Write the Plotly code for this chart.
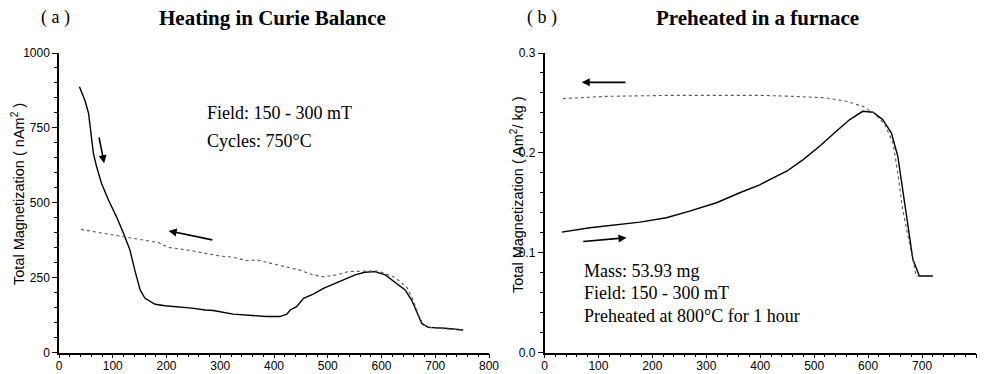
import plotly.graph_objects as go

# ---- data (a) Heating in Curie Balance ----
heat_a_T = [38, 48, 55, 60, 64, 70, 79, 92, 107, 120, 132, 141, 151, 160, 179, 197, 222, 247, 272, 287,
            324, 361, 386, 411, 424, 430, 442, 455, 473, 492, 517, 532, 551, 569, 588, 607, 625, 644,
            656, 666, 675, 687, 718, 752]
heat_a_M = [887, 843, 799, 720, 665, 620, 565, 509, 453, 398, 342, 275, 209, 181, 161, 156, 153, 148, 142, 140,
            128, 123, 120, 120, 128, 142, 153, 181, 195, 214, 233, 244, 259, 268, 270, 259, 236, 209,
            175, 131, 97, 84, 81, 75]
cool_a_T = [41, 86, 123, 154, 185, 203, 247, 272, 300, 324, 349, 368, 393, 417, 448, 473, 492, 517, 538,
            569, 594, 625, 647, 659, 669, 678, 693, 752]
cool_a_M = [411, 398, 387, 376, 367, 351, 340, 331, 322, 318, 307, 309, 298, 290, 275, 259, 253, 259, 270,
            272, 272, 251, 218, 175, 125, 92, 83, 75]

# ---- data (b) Preheated in a furnace ----
heat_b_T = [32, 84, 177, 226, 269, 319, 362, 399, 424, 449, 479, 510, 541, 566, 590, 609, 627, 643,
            655, 664, 674, 683, 695, 720]
heat_b_M = [0.1206, 0.125, 0.1306, 0.135, 0.1416, 0.150, 0.160, 0.168, 0.175, 0.1816, 0.193, 0.2066,
            0.2216, 0.2333, 0.2416, 0.2406, 0.2333, 0.220, 0.1966, 0.1633, 0.1266, 0.0933, 0.0766, 0.0766]
cool_b_T = [34, 115, 239, 399, 461, 523, 560, 590, 612, 631, 646, 655, 664, 677, 689, 705]
cool_b_M = [0.2543, 0.2566, 0.2576, 0.2576, 0.2566, 0.255, 0.2516, 0.2466, 0.2393, 0.2283, 0.21, 0.18,
            0.1433, 0.1066, 0.0766, 0.0766]

x_ticks = [0, 100, 200, 300, 400, 500, 600, 700, 800]
ya_ticks = [0, 250, 500, 750, 1000]
yb_ticks = [0.0, 0.1, 0.2, 0.3]

SERIF = "Liberation Serif"
SANS = "Liberation Sans"
W, H = 985, 374

fig = go.Figure()
solid = dict(color="black", width=1.4)
dotted = dict(color="#555555", width=1.1, dash="dot")
fig.add_trace(go.Scatter(x=heat_a_T, y=heat_a_M, mode="lines", line=solid, xaxis="x", yaxis="y"))
fig.add_trace(go.Scatter(x=cool_a_T, y=cool_a_M, mode="lines", line=dotted, xaxis="x", yaxis="y"))
fig.add_trace(go.Scatter(x=heat_b_T, y=heat_b_M, mode="lines", line=solid, xaxis="x2", yaxis="y2"))
fig.add_trace(go.Scatter(x=cool_b_T, y=cool_b_M, mode="lines", line=dotted, xaxis="x2", yaxis="y2"))

def px_x(p):
    return p / W

def px_y(p):
    return 1 - p / H

axis_common = dict(showline=True, linecolor="black", linewidth=1.5, ticks="outside", ticklen=5,
                   tickwidth=1, tickcolor="black", showgrid=False, zeroline=False,
                   tickfont=dict(family=SANS, size=12, color="black"), automargin=False)
xaxis_extra = dict(ticklen=4, ticklabelstandoff=-3)

ydom = [px_y(352.5), px_y(53)]
fig.update_layout(
    width=W, height=H, margin=dict(l=0, r=0, t=0, b=0),
    paper_bgcolor="white", plot_bgcolor="white", showlegend=False,
    xaxis=dict(domain=[px_x(59), px_x(489)], range=[0, 800], tickvals=x_ticks, anchor="y",
               minor=dict(dtick=20, ticks="outside", ticklen=3, tickcolor="black"),
               **{**axis_common, **xaxis_extra}),
    yaxis=dict(domain=ydom, range=[0, 1000], tickvals=ya_ticks, anchor="x",
               minor=dict(dtick=50, ticks="outside", ticklen=3, tickcolor="black"), **axis_common),
    xaxis2=dict(domain=[px_x(544.5), px_x(976)], range=[0, 800], tickvals=x_ticks, anchor="y2",
                minor=dict(dtick=20, ticks="outside", ticklen=3, tickcolor="black"),
                **{**axis_common, **xaxis_extra}),
    yaxis2=dict(domain=ydom, range=[0, 0.3], tickvals=yb_ticks, tickformat=".1f", anchor="x2",
                minor=dict(dtick=0.02, ticks="outside", ticklen=3, tickcolor="black"), **axis_common),
)

ann = []
def paper_text(txt, xp, yp, size, family, angle=0):
    return dict(text=txt, x=px_x(xp), y=px_y(yp), xref="paper", yref="paper", xanchor="center",
                yanchor="middle", showarrow=False, textangle=angle,
                font=dict(family=family, size=size, color="black"))

# titles
ann.append(paper_text("( a )", 55, 18, 18, SERIF))
ann.append(paper_text("<b>Heating in Curie Balance</b>", 272, 18, 21, SERIF))
ann.append(paper_text("( b )", 542, 18, 18, SERIF))
ann.append(paper_text("<b>Preheated in a furnace</b>", 757, 18, 21, SERIF))
# y titles
ann.append(paper_text("Total Magnetization ( nAm<sup>2</sup> )", 18, 194, 14.5, SANS, -90))
ann.append(paper_text("Total Magnetization ( Am<sup>2</sup>/ kg )", 517, 195, 14.5, SANS, -90))
# in-plot texts (a)
for txt, yv in [("Field: 150 - 300 mT", 800), ("Cycles: 750°C", 706)]:
    ann.append(dict(text=txt, x=272, y=yv, xref="x", yref="y", xanchor="left", yanchor="middle",
                    showarrow=False, font=dict(family=SERIF, size=18, color="black")))
# in-plot texts (b)
for txt, yv in [("Mass: 53.93 mg", 0.082), ("Field: 150 - 300 mT", 0.060),
                ("Preheated at 800°C for 1 hour", 0.037)]:
    ann.append(dict(text=txt, x=69, y=yv, xref="x2", yref="y2", xanchor="left", yanchor="middle",
                    showarrow=False, font=dict(family=SERIF, size=18, color="black")))
# arrows
arrow = dict(text="", showarrow=True, arrowhead=2, arrowsize=1, arrowwidth=1.6, arrowcolor="black")
ann.append(dict(x=84, y=632, ax=74, ay=723, xref="x", yref="y", axref="x", ayref="y", **arrow))
ann.append(dict(x=204, y=406, ax=288, ay=375, xref="x", yref="y", axref="x", ayref="y", **arrow))
ann.append(dict(x=69, y=0.2706, ax=153, ay=0.2706, xref="x2", yref="y2", axref="x2", ayref="y2", **arrow))
ann.append(dict(x=152, y=0.115, ax=69, ay=0.111, xref="x2", yref="y2", axref="x2", ayref="y2", **arrow))
fig.update_layout(annotations=ann)

fig.write_html("out.html", config={"displayModeBar": False},
               post_script="document.body.style.margin='0';")
